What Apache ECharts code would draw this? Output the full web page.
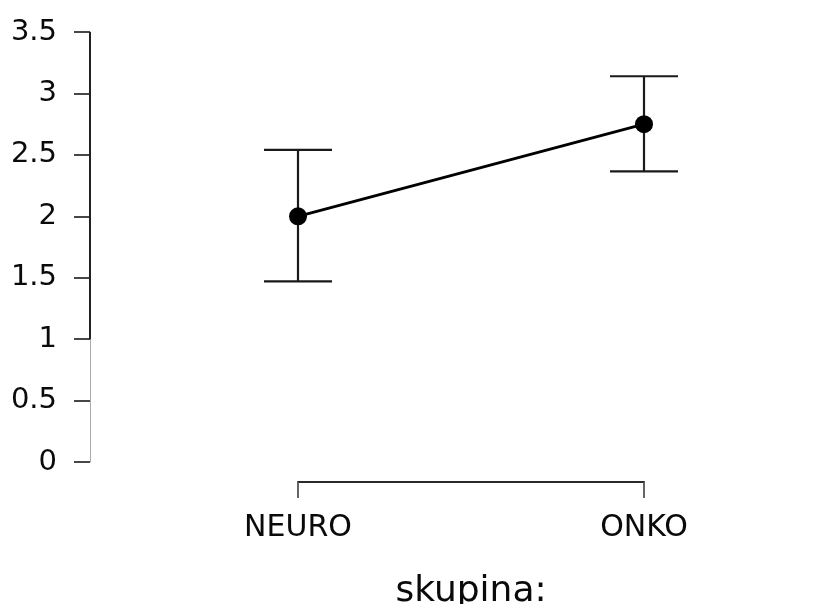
<!DOCTYPE html>
<html>
<head>
<meta charset="utf-8">
<script src="https://cdn.jsdelivr.net/npm/echarts@6/dist/echarts.min.js"></script>
<style>
  html, body { margin: 0; padding: 0; background: #fff; }
  #chart { width: 840px; height: 604px; }
</style>
</head>
<body>
<div id="chart"></div>
<script>
// Group means with their confidence interval bounds
const categories = ['NEURO', 'ONKO'];
const means = [2.0, 2.75];
const lowerCI = [1.47, 2.365];
const upperCI = [2.54, 3.14];

// Y axis scale
const yMin = 0;
const yMax = 3.5;
const yStep = 0.5;
const yAxisSolidFrom = 1; // the axis line is drawn dark from here to the top

const FONT = 'DejaVu Sans';
const INK = '#0a0a0a';
const Y_OFFSET = 208;   // distance of the y axis line from the plotting area
const CAP_HALF = 34;    // half width of error bar caps

const errorData = categories.map((c, i) => [i, lowerCI[i], upperCI[i]]);

const chart = echarts.init(document.getElementById('chart'), null, { renderer: 'canvas' });

chart.setOption({
  animation: false,
  backgroundColor: '#fff',
  grid: { left: 298, right: 196, top: 32, bottom: 142, containLabel: false, outerBoundsMode: 'none' },
  xAxis: {
    type: 'category',
    data: categories,
    boundaryGap: false,
    offset: 20,
    axisLine: { show: true, onZero: false, lineStyle: { color: '#2a2a2a', width: 2 } },
    axisTick: { show: true, length: 16, lineStyle: { color: '#555', width: 1.8 } },
    axisLabel: { fontFamily: FONT, fontSize: 30, color: INK, margin: 31 },
    splitLine: { show: false },
    name: 'skupina:',
    nameLocation: 'middle',
    nameGap: 92,
    nameTextStyle: { fontFamily: FONT, fontSize: 36, color: INK }
  },
  yAxis: {
    type: 'value',
    min: yMin,
    max: yMax,
    interval: yStep,
    offset: Y_OFFSET,
    axisLine: { show: true, lineStyle: { color: '#aaa', width: 1 } },
    axisTick: { show: true, length: 16, lineStyle: { color: '#333', width: 1.8 } },
    axisLabel: { fontFamily: FONT, fontSize: 29, color: INK, margin: 33 },
    splitLine: { show: false }
  },
  series: [
    {
      // darker upper part of the y axis line
      type: 'custom',
      silent: true,
      clip: false,
      data: [[yAxisSolidFrom, yMax]],
      renderItem: function (params, api) {
        const x = params.coordSys.x - Y_OFFSET;
        const y1 = api.coord([0, api.value(0)])[1];
        const y2 = api.coord([0, api.value(1)])[1];
        return {
          type: 'line',
          shape: { x1: x, y1: y1, x2: x, y2: y2 },
          style: { stroke: '#222', lineWidth: 2 }
        };
      },
      z: 3
    },
    {
      // confidence interval bars
      type: 'custom',
      silent: true,
      clip: false,
      data: errorData,
      renderItem: function (params, api) {
        const lo = api.coord([api.value(0), api.value(1)]);
        const hi = api.coord([api.value(0), api.value(2)]);
        const st = { stroke: '#1a1a1a', lineWidth: 2.2 };
        return {
          type: 'group',
          children: [
            { type: 'line', shape: { x1: lo[0], y1: lo[1], x2: hi[0], y2: hi[1] }, style: st },
            { type: 'line', shape: { x1: lo[0] - CAP_HALF, y1: lo[1], x2: lo[0] + CAP_HALF, y2: lo[1] }, style: st },
            { type: 'line', shape: { x1: hi[0] - CAP_HALF, y1: hi[1], x2: hi[0] + CAP_HALF, y2: hi[1] }, style: st }
          ]
        };
      },
      z: 2
    },
    {
      type: 'line',
      data: means,
      clip: false,
      symbol: 'circle',
      symbolSize: 18,
      lineStyle: { color: '#000', width: 2.8 },
      itemStyle: { color: '#000' },
      z: 4
    }
  ]
});
</script>
</body>
</html>
